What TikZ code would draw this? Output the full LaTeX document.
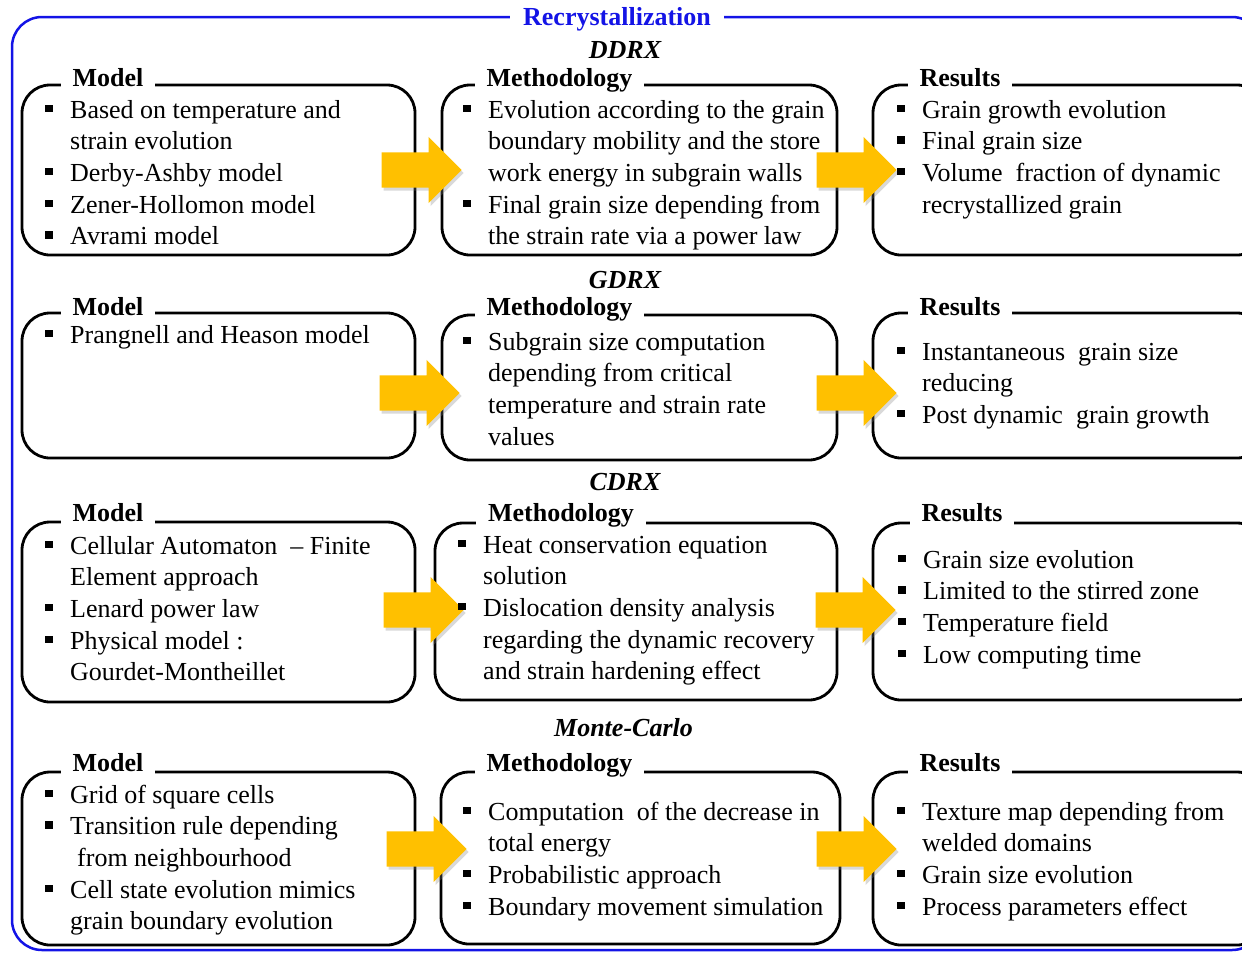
\documentclass[tikz,border=0pt]{standalone}
\usepackage{fontspec}
\setmainfont{Liberation Serif}
\usetikzlibrary{shapes.arrows,shadows}
\definecolor{frameblue}{RGB}{20,20,230}
\definecolor{arrowgold}{RGB}{255,192,0}
\newlength\bw
\setlength\bw{25pt}
\newcommand\blt{\rule[6pt]{7.5pt}{7.5pt}}
\newcommand\bl{\makebox[\bw][l]{\blt}}
\newcommand\cn{\makebox[\bw][l]{}}
\newcommand\lst[1]{\begin{tabular}[t]{@{}l@{}}#1\end{tabular}}
\tikzset{
  boxframe/.style={draw=black, line width=2.8pt, rounded corners=28pt, inner sep=0pt, outer sep=0pt, anchor=north west},
  headlbl/.style={fill=white, inner xsep=12pt, inner ysep=1pt, text depth=6pt, anchor=base, font=\fontsize{26}{31}\selectfont\bfseries},
  secttitle/.style={anchor=base, inner sep=0pt, font=\fontsize{26}{31}\selectfont\bfseries\itshape},
  bodytext/.style={anchor=base west, inner sep=0pt, font=\fontsize{26}{31.7}\selectfont},
  bigarrow/.style={single arrow, fill=arrowgold, draw=none, inner xsep=0pt, inner ysep=17.5pt, text height=0pt, text depth=0pt, minimum height=80pt, single arrow head extend=15.5pt, anchor=tip, drop shadow={shadow xshift=2pt, shadow yshift=-3pt, opacity=.3}},
}
\begin{document}
\begin{tikzpicture}[x=1pt,y=-1pt]
\clip (0,0) rectangle (1242,954);
% outer frame
\node[draw=frameblue, line width=2.5pt, rounded corners=30pt, inner sep=0pt, outer sep=0pt, anchor=north west, minimum width=1250pt, minimum height=933pt] (frame) at (12,17) {};
\node[fill=white, inner xsep=13pt, inner ysep=2pt, anchor=base, text=frameblue, font=\fontsize{26}{31}\selectfont\bfseries] (title) at (617,25) {Recrystallization};

% section titles
\node[secttitle] (s1) at (625,58) {DDRX};
\node[secttitle] (s2) at (625,288) {GDRX};
\node[secttitle] (s3) at (625,490) {CDRX};
\node[secttitle] (s4) at (623.5,736) {Monte-Carlo};

% boxes row 1
\node[boxframe, minimum width=393pt, minimum height=170pt] (bm1) at (22,85) {};
\node[boxframe, minimum width=395pt, minimum height=170pt] (bt1) at (442,85) {};
\node[boxframe, minimum width=392pt, minimum height=170pt] (br1) at (873,85) {};
% row 2
\node[boxframe, minimum width=393pt, minimum height=145pt] (bm2) at (22,313) {};
\node[boxframe, minimum width=395pt, minimum height=145pt] (bt2) at (442,315) {};
\node[boxframe, minimum width=392pt, minimum height=145pt] (br2) at (873,313) {};
% row 3
\node[boxframe, minimum width=393pt, minimum height=180pt] (bm3) at (22,522) {};
\node[boxframe, minimum width=402pt, minimum height=177pt] (bt3) at (435,523) {};
\node[boxframe, minimum width=392pt, minimum height=177pt] (br3) at (873,523) {};
% row 4
\node[boxframe, minimum width=393pt, minimum height=173pt] (bm4) at (22,772) {};
\node[boxframe, minimum width=399pt, minimum height=172pt] (bt4) at (441,772) {};
\node[boxframe, minimum width=392pt, minimum height=173pt] (br4) at (873,772) {};

% headings
\node[headlbl] (hm1) at (108,86) {Model};
\node[headlbl] (ht1) at (559.5,86) {Methodology};
\node[headlbl] (hr1) at (960,86) {Results};
\node[headlbl] (hm2) at (108,315) {Model};
\node[headlbl] (ht2) at (559.5,315) {Methodology};
\node[headlbl] (hr2) at (960,315) {Results};
\node[headlbl] (hm3) at (108,521) {Model};
\node[headlbl] (ht3) at (561,521) {Methodology};
\node[headlbl] (hr3) at (962,521) {Results};
\node[headlbl] (hm4) at (108,771) {Model};
\node[headlbl] (ht4) at (559.5,771) {Methodology};
\node[headlbl] (hr4) at (960,771) {Results};

% arrows
\node[bigarrow] (a1l) at (462,170) {};
\node[bigarrow] (a1r) at (897,170) {};
\node[bigarrow] (a2l) at (460,393) {};
\node[bigarrow] (a2r) at (897,393) {};
\node[bigarrow] (a3l) at (464,610) {};
\node[bigarrow] (a3r) at (896,610) {};
\node[bigarrow] (a4l) at (467,849) {};
\node[bigarrow] (a4r) at (897,849) {};

% texts row 1
\node[bodytext] (tm1) at (45,118) {\lst{\bl Based on temperature and\\ \cn strain evolution\\ \bl Derby-Ashby model\\ \bl Zener-Hollomon model\\ \bl Avrami model}};
\node[bodytext] (tt1) at (463,118) {\lst{\bl Evolution according to the grain\\ \cn boundary mobility and the store\\ \cn work energy in subgrain walls\\ \bl Final grain size depending from\\ \cn the strain rate via a power law}};
\node[bodytext] (tr1) at (897,118) {\lst{\bl Grain growth evolution\\ \bl Final grain size\\ \bl Volume\ \ fraction of dynamic\\ \cn recrystallized grain}};
% row 2
\node[bodytext] (tm2) at (45,343) {\lst{\bl Prangnell and Heason model}};
\node[bodytext] (tt2) at (463,350) {\lst{\bl Subgrain size computation\\ \cn depending from critical\\ \cn temperature and strain rate\\ \cn values}};
\node[bodytext] (tr2) at (897,360) {\lst{\bl Instantaneous\ \ grain size\\ \cn reducing\\ \bl Post dynamic\ \ grain growth}};
% row 3
\node[bodytext] (tm3) at (45,554) {\lst{\bl Cellular Automaton\ \ -- Finite\\ \cn Element approach\\ \bl Lenard power law\\ \bl Physical model :\\ \cn Gourdet-Montheillet}};
\node[bodytext] (tt3) at (458,553) {\lst{\bl Heat conservation equation\\ \cn solution\\ \bl Dislocation density analysis\\ \cn regarding the dynamic recovery\\ \cn and strain hardening effect}};
\node[bodytext] (tr3) at (898,568) {\lst{\bl Grain size evolution\\ \bl Limited to the stirred zone\\ \bl Temperature field\\ \bl Low computing time}};
% row 4
\node[bodytext] (tm4) at (45,803) {\lst{\bl Grid of square cells\\ \bl Transition rule depending\\ \cn\hspace{7pt}from neighbourhood\\ \bl Cell state evolution mimics\\ \cn grain boundary evolution}};
\node[bodytext] (tt4) at (463,820) {\lst{\bl Computation\ \ of the decrease in\\ \cn total energy\\ \bl Probabilistic approach\\ \bl Boundary movement simulation}};
\node[bodytext] (tr4) at (897,820) {\lst{\bl Texture map depending from\\ \cn welded domains\\ \bl Grain size evolution\\ \bl Process parameters effect}};
\end{tikzpicture}
\end{document}
